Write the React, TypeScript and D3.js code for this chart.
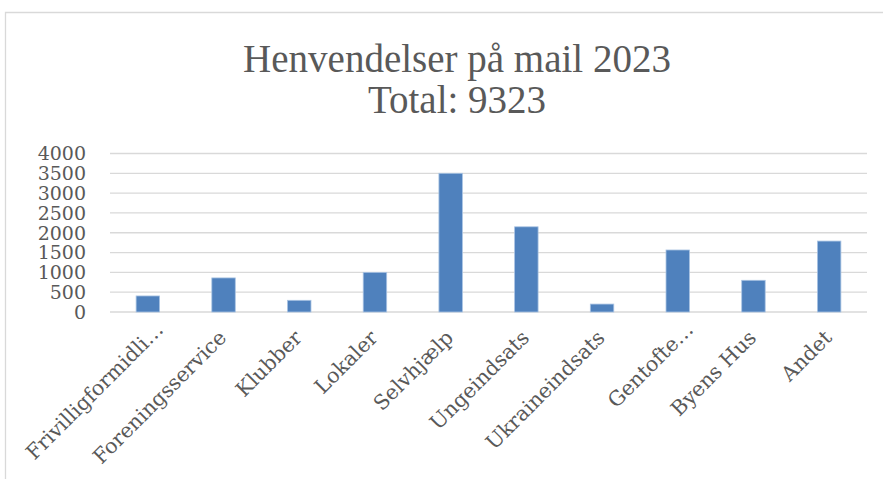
import React from "react";
import * as d3 from "d3";

const categories = [
  "Frivilligformidli…",
  "Foreningsservice",
  "Klubber",
  "Lokaler",
  "Selvhjælp",
  "Ungeindsats",
  "Ukraineindsats",
  "Gentofte…",
  "Byens Hus",
  "Andet",
];
const values = [405, 860, 295, 1000, 3500, 2150, 200, 1565, 800, 1790];
const yTicks = [0, 500, 1000, 1500, 2000, 2500, 3000, 3500, 4000];
const titleLines = ["Henvendelser på mail 2023", "Total: 9323"];

const W = 883;
const H = 479;
const plot = { left: 110, right: 867, top: 153.5, bottom: 312 };
const textColor = "#595959";
const axisFont = "'DejaVu Serif', serif";
const titleFont = "'Liberation Serif', serif";

export default function App() {
  const x = d3
    .scaleBand<string>()
    .domain(categories)
    .range([plot.left, plot.right])
    .paddingInner(0.69)
    .paddingOuter(0.345);
  const y = d3.scaleLinear().domain([0, 4000]).range([plot.bottom, plot.top]);

  return (
    <svg
      width={W}
      height={H}
      style={{ position: "absolute", left: 0, top: 0, background: "#fff" }}
    >
      <rect x={0} y={0} width={W} height={H} fill="#fff" />
      {/* chart border */}
      <path d={`M5.5,${H} V12.5 H${W}`} fill="none" stroke="#d9d9d9" strokeWidth={1.3} />
      {/* title */}
      {titleLines.map((t, i) => (
        <text
          key={t}
          x={457}
          y={72 + i * 41}
          textAnchor="middle"
          fontFamily={titleFont}
          fontSize={39}
          fill={textColor}
        >
          {t}
        </text>
      ))}
      {/* gridlines */}
      {yTicks.map((t) => (
        <line
          key={t}
          x1={plot.left}
          x2={plot.right}
          y1={y(t)}
          y2={y(t)}
          stroke="#d9d9d9"
          strokeWidth={1.3}
        />
      ))}
      {/* y tick labels */}
      {yTicks.map((t) => (
        <text
          key={"l" + t}
          x={86}
          y={y(t)}
          dy="0.36em"
          textAnchor="end"
          fontFamily={axisFont}
          fontSize={19}
          fill={textColor}
        >
          {t}
        </text>
      ))}
      {/* bars */}
      {categories.map((c, i) => (
        <rect
          key={c}
          x={x(c)}
          y={y(values[i])}
          width={x.bandwidth()}
          height={y(0) - y(values[i])}
          fill="#4f81bd"
          stroke="#a9c3e3"
          strokeWidth={0.8}
        />
      ))}
      {/* x labels */}
      {categories.map((c) => {
        const cx = (x(c) ?? 0) + x.bandwidth() / 2;
        const trunc = c.endsWith("…");
        const shift = trunc ? 15 : 0;
        const ax = cx + 4 + shift * 0.85;
        const ay = 339 - shift * 0.55;
        return (
          <text
            key={"x" + c}
            transform={`translate(${ax},${ay}) rotate(-45)`}
            textAnchor="end"
            fontFamily={axisFont}
            fontSize={20.5}
            fill={textColor}
          >
            {c}
          </text>
        );
      })}
    </svg>
  );
}
